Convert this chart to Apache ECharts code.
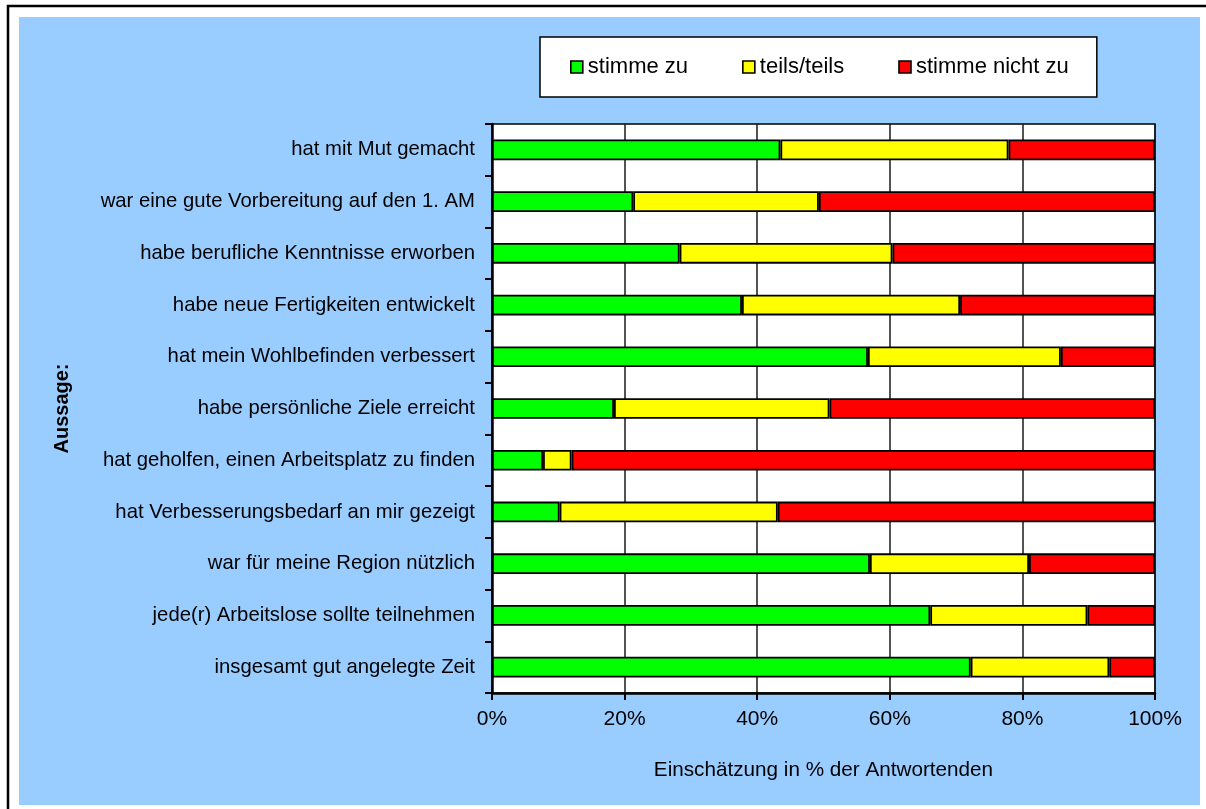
<!DOCTYPE html>
<html>
<head>
<meta charset="utf-8">
<script src="https://cdn.jsdelivr.net/npm/echarts@6/dist/echarts.min.js"></script>
<style>
  html, body { margin: 0; padding: 0; background: #fff; }
  #chart { width: 1206px; height: 809px; }
</style>
</head>
<body>
<div id="chart"></div>
<script>
// Statements, listed top to bottom
const categories = [
  'hat mit Mut gemacht',
  'war eine gute Vorbereitung auf den 1. AM',
  'habe berufliche Kenntnisse erworben',
  'habe neue Fertigkeiten entwickelt',
  'hat mein Wohlbefinden verbessert',
  'habe persönliche Ziele erreicht',
  'hat geholfen, einen Arbeitsplatz zu finden',
  'hat Verbesserungsbedarf an mir gezeigt',
  'war für meine Region nützlich',
  'jede(r) Arbeitslose sollte teilnehmen',
  'insgesamt gut angelegte Zeit'
];

// Share of respondents (%) per answer
const stimmeZu      = [43.5, 21.3, 28.3, 37.7, 56.7, 18.4,  7.7, 10.2, 57.0, 66.1, 72.2];
const teilsTeils    = [34.4, 28.0, 32.1, 32.9, 29.1, 32.5,  4.3, 32.9, 24.0, 23.7, 20.9];
const stimmeNichtZu = [22.1, 50.7, 39.6, 29.4, 14.2, 49.1, 88.0, 56.9, 19.0, 10.2,  6.9];

const seriesNames = ['stimme zu', 'teils/teils', 'stimme nicht zu'];
const seriesColors = ['#00FF00', '#FFFF00', '#FF0000'];
const seriesData = [stimmeZu, teilsTeils, stimmeNichtZu];

const xTicks = { min: 0, max: 100, interval: 20 };

const FONT = '"Liberation Sans", Arial, sans-serif';

const chart = echarts.init(document.getElementById('chart'), null, { renderer: 'canvas' });

chart.setOption({
  animation: false,
  backgroundColor: '#ffffff',
  textStyle: { fontFamily: FONT, color: '#000' },
  graphic: [
    {
      type: 'rect', z: -20, silent: true,
      shape: { x: 8, y: 6, width: 1230, height: 830 },
      style: { fill: '#ffffff', stroke: '#000000', lineWidth: 2.5 }
    },
    {
      type: 'rect', z: -19, silent: true,
      shape: { x: 19, y: 17, width: 1181, height: 788 },
      style: { fill: '#99CCFF' }
    }
  ],
  legend: {
    data: seriesNames,
    left: 540,
    top: 37,
    padding: [19, 28, 19, 30],
    itemGap: 54,
    itemWidth: 12,
    itemHeight: 12,
    icon: 'rect',
    backgroundColor: '#ffffff',
    borderColor: '#000000',
    borderWidth: 1.5,
    borderRadius: 0,
    textStyle: { fontFamily: FONT, fontSize: 22, color: '#000' },
    itemStyle: { borderColor: '#000', borderWidth: 1.6 }
  },
  grid: {
    left: 492,
    right: 51,
    top: 124,
    bottom: 116,
    show: true,
    backgroundColor: '#ffffff',
    borderColor: '#000000',
    borderWidth: 1.5
  },
  xAxis: {
    type: 'value',
    min: xTicks.min,
    max: xTicks.max,
    interval: xTicks.interval,
    name: 'Einschätzung in % der Antwortenden',
    nameLocation: 'middle',
    nameGap: 67,
    nameTextStyle: { fontFamily: FONT, fontSize: 20.7, color: '#000' },
    axisLine: { show: true, lineStyle: { color: '#000', width: 2.5 } },
    axisTick: { show: true, length: 7, lineStyle: { color: '#000', width: 2 } },
    axisLabel: {
      formatter: '{value}%',
      fontFamily: FONT, fontSize: 21, color: '#000', margin: 16
    },
    splitLine: { show: true, lineStyle: { color: '#1a1a1a', width: 1.5 } }
  },
  yAxis: {
    type: 'category',
    data: categories,
    inverse: true,
    name: 'Aussage:',
    nameLocation: 'middle',
    nameRotate: 90,
    nameGap: 420,
    nameTextStyle: { fontFamily: FONT, fontSize: 20, fontWeight: 'bold', color: '#000' },
    axisLine: { show: true, lineStyle: { color: '#000', width: 2.5 } },
    axisTick: { show: true, length: 7, lineStyle: { color: '#000', width: 2 } },
    axisLabel: { fontFamily: FONT, fontSize: 20.3, color: '#000', margin: 17, padding: [4, 0, 0, 0] },
    splitLine: { show: false }
  },
  series: seriesNames.map((name, i) => ({
    name,
    type: 'bar',
    stack: 'total',
    barWidth: '40%',
    data: seriesData[i],
    itemStyle: { color: seriesColors[i], borderColor: '#000', borderWidth: 1.8 }
  }))
});
</script>
</body>
</html>
